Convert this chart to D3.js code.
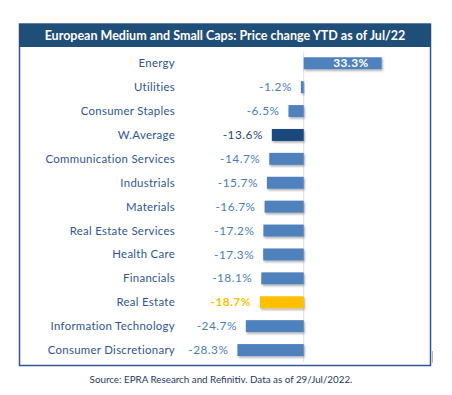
<!DOCTYPE html>
<html><head><meta charset="utf-8">
<script src="https://cdn.jsdelivr.net/npm/d3@7"></script>
<style>body{margin:0;background:#fff}svg{display:block}</style>
</head><body>
<script>
const categories = ["Energy","Utilities","Consumer Staples","W.Average","Communication Services","Industrials","Materials","Real Estate Services","Health Care","Financials","Real Estate","Information Technology","Consumer Discretionary"];
const values = [33.3,-1.2,-6.5,-13.6,-14.7,-15.7,-16.7,-17.2,-17.3,-18.1,-18.7,-24.7,-28.3];
const title = "European Medium and Small Caps: Price change YTD as of Jul/22";
const source = "Source: EPRA Research and Refinitiv. Data as of 29/Jul/2022.";

const W = 452, H = 395;
const svg = d3.select("body").append("svg").attr("width", W).attr("height", H);
const defs = svg.append("defs");
const f = defs.append("filter").attr("id","sh").attr("x","-10%").attr("y","-30%").attr("width","130%").attr("height","180%");
f.append("feDropShadow").attr("dx",1).attr("dy",1.5).attr("stdDeviation",0.8).attr("flood-color","#000").attr("flood-opacity",0.35);

const fontFam = "Lato, 'Open Sans', sans-serif";

// frame
svg.append("rect").attr("x",19.5).attr("y",24).attr("width",411).attr("height",341.5)
  .attr("fill","none").attr("stroke","#2F5597").attr("stroke-width",1.5);
svg.append("rect").attr("x",19).attr("y",24).attr("width",412).attr("height",23).attr("fill","#1F4E79");
svg.append("text").attr("x",225).attr("y",40).attr("text-anchor","middle")
  .attr("font-family",fontFam).attr("font-weight","bold").attr("font-size",12.5).attr("fill","#fff").text(title);

const x = d3.scaleLinear().domain([-40,40]).range([303.7-93.68, 303.7+93.68]);
const y = d3.scaleBand().domain(categories).range([51.3,362]).paddingInner(0.5).paddingOuter(0.25);

svg.append("line").attr("x1",x(0)).attr("x2",x(0)).attr("y1",52).attr("y2",362)
  .attr("stroke","#D6E0F0").attr("stroke-width",1);

function barColor(c){ return c==="W.Average" ? "#1F497D" : c==="Real Estate" ? "#FFC000" : "#4F81BD"; }
function labColor(c){ return c==="W.Average" ? "#1F497D" : c==="Real Estate" ? "#FFC000" : "#4A7EBB"; }

const data = categories.map((c,i)=>({c, v: values[i]}));
const fmt = v => d3.format(".1f")(v).replace("\u2212","-") + "%";

svg.append("g").selectAll("rect").data(data).join("rect")
  .attr("x", d=>x(Math.min(0,d.v))).attr("width", d=>Math.abs(x(d.v)-x(0)))
  .attr("y", d=>y(d.c)).attr("height", y.bandwidth())
  .attr("fill", d=>barColor(d.c)).attr("filter","url(#sh)");

// category labels
svg.append("g").selectAll("text").data(data).join("text")
  .attr("x",175).attr("y", d=>y(d.c)+y.bandwidth()/2).attr("dy","0.35em")
  .attr("text-anchor","end").attr("font-family",fontFam).attr("font-size",11.4)
  .attr("letter-spacing",0.3)
  .attr("fill","#2F5597").text(d=>d.c);

// value labels
svg.append("g").selectAll("text").data(data).join("text")
  .attr("x", d=> d.v<0 ? x(d.v)-9 : x(d.v)-13)
  .attr("y", d=>y(d.c)+y.bandwidth()/2).attr("dy","0.35em")
  .attr("text-anchor","end").attr("font-family",fontFam).attr("font-size",11.8)
  .attr("letter-spacing",0.5)
  .attr("font-weight", d=> (d.v>0 || d.c==="Real Estate") ? "bold" : "normal")
  .attr("fill", d=> d.v>0 ? "#fff" : labColor(d.c))
  .text(d=>fmt(d.v));

svg.append("line").attr("x1",432.5).attr("x2",432.5).attr("y1",351).attr("y2",363).attr("stroke","#BBBBBB").attr("stroke-width",1);

svg.append("text").attr("x",221).attr("y",383).attr("text-anchor","middle")
  .attr("font-family",fontFam).attr("font-size",9.8).attr("fill","#1F3864").text(source);
</script>
</body></html>
